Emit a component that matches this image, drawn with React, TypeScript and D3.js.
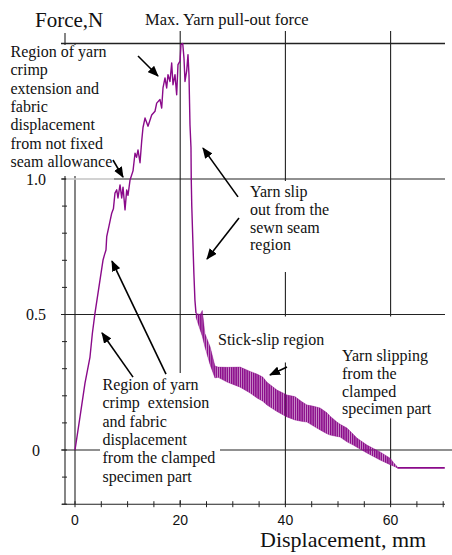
import React from "react";
import * as d3 from "d3";

// ---- Data (displacement in mm, force in N) ----
const riseX = [0, 0.95, 1.9, 2.85, 3.3, 3.8, 4.75, 5.32, 5.6, 5.89, 6.03, 6.5, 6.98, 7.3, 7.6, 7.93, 8.17, 8.56, 8.88, 9.13, 9.51, 9.83, 10.08, 10.46, 11.03, 11.41, 11.7, 11.98, 12.36, 12.68, 12.93, 13.31, 13.88, 14.58, 15.21, 15.53, 16.16, 16.48, 16.73, 17.11, 17.43, 17.68, 18.06, 18.38, 18.63, 19.01, 19.33, 19.58, 19.96, 20.15, 20.48, 20.72, 20.91, 21.24, 21.48, 21.67, 21.86, 22.05, 22.1, 22.2, 22.4, 22.6, 22.8, 23.0];
const riseY = [0, 0.122, 0.247, 0.343, 0.43, 0.505, 0.627, 0.70, 0.72, 0.738, 0.787, 0.83, 0.874, 0.89, 0.948, 0.96, 0.93, 0.978, 0.93, 0.97, 0.886, 0.96, 0.94, 0.996, 1.03, 1.095, 1.08, 1.107, 1.06, 1.14, 1.19, 1.225, 1.195, 1.236, 1.25, 1.28, 1.293, 1.262, 1.336, 1.373, 1.336, 1.385, 1.36, 1.428, 1.348, 1.385, 1.311, 1.422, 1.435, 1.496, 1.5, 1.446, 1.36, 1.4, 1.459, 1.385, 1.2, 1.115, 1.0, 0.9, 0.775, 0.652, 0.553, 0.505];

const slipX = [23.0, 23.8, 24.2, 24.7, 25.7, 26.6, 27.2, 29.0, 31.4, 33.3, 34.6, 35.7, 36.5, 38.4, 40.3, 41.8, 43.0, 44.1, 45.2, 46.6, 47.9, 48.5, 49.8, 50.4, 51.7, 52.9, 53.6, 55.5, 58.0, 59.9, 60.5, 61.3];
const slipTop = [0.505, 0.50, 0.515, 0.43, 0.38, 0.31, 0.306, 0.305, 0.306, 0.29, 0.28, 0.269, 0.25, 0.221, 0.203, 0.197, 0.18, 0.166, 0.162, 0.155, 0.137, 0.125, 0.103, 0.095, 0.081, 0.058, 0.044, 0.018, -0.007, -0.03, -0.045, -0.063];
const slipBottom = [0.49, 0.443, 0.42, 0.38, 0.314, 0.266, 0.268, 0.25, 0.232, 0.21, 0.192, 0.18, 0.166, 0.142, 0.122, 0.111, 0.106, 0.103, 0.09, 0.074, 0.06, 0.055, 0.05, 0.048, 0.03, 0.018, 0.01, -0.011, -0.037, -0.054, -0.059, -0.066];

const tailX = [61.3, 70.3];
const tailY = [-0.066, -0.066];

const xTickLabels = [0, 20, 40, 60];
const yTickLabels = ["0", "0.5", "1.0"];
const yTickValues = [0, 0.5, 1.0];
const gridXValues = [0, 20, 40, 60];
const gridYValues = [0, 0.5, 1.0, 1.5];

// arrows: [x1, y1, x2, y2] in data units, head at the second point
const arrows = [
  [11.98, 1.454, 15.78, 1.38],
  [7.22, 1.07, 9.13, 1.007],
  [30.99, 0.934, 24.33, 1.114],
  [31.18, 0.856, 25.1, 0.705],
  [11.03, 0.269, 5.13, 0.432],
  [17.3, 0.28, 7.03, 0.697],
  [40.3, 0.306, 37.07, 0.277],
];

const noteUpperLeft = ["Region of yarn", "crimp", "extension and", "fabric", "displacement", "from not fixed", "seam allowance"];
const noteSlip = ["Yarn slip", "out from the", "sewn seam", "region"];
const noteStick = ["Stick-slip region"];
const noteClamped = ["Yarn slipping", "from the", "clamped", "specimen part"];
const noteLower = ["Region of yarn", "crimp\u00a0 extension", "and fabric", "displacement", "from the clamped", "specimen part"];

const PURPLE = "#8a0a8a";
const SERIF = "'Liberation Serif', 'Times New Roman', serif";
const SANS = "'Liberation Sans', Arial, sans-serif";

function TextBlock({ lines, x, y, lh, size = 16 }: { lines: string[]; x: number; y: number; lh: number; size?: number }) {
  return (
    <g>
      {lines.map((l, i) => (
        <text key={i} x={x} y={y + i * lh} fontFamily={SERIF} fontSize={size} fill="#111">
          {l}
        </text>
      ))}
    </g>
  );
}

export default function App() {
  const W = 452;
  const H = 555;
  const x = d3.scaleLinear().domain([0, 70]).range([75, 443.2]);
  const y = d3.scaleLinear().domain([-0.2, 1.5]).range([504.2, 43.5]);

  const riseLine = d3
    .line<number>()
    .x((d) => x(d))
    .y((_, i) => y(riseY[i]));
  const tailLine = d3
    .line<number>()
    .x((d) => x(d))
    .y((_, i) => y(tailY[i]));
  const slipArea = d3
    .area<number>()
    .x((d) => x(d))
    .y0((_, i) => y(slipBottom[i]))
    .y1((_, i) => y(slipTop[i]));

  const xMinorTicks = d3.range(0, 70.01, 5);
  const yMinorTicks = d3.range(-0.2, 1.501, 0.1);
  const axisX = 65;
  const axisY = y(-0.2);
  const topY = 31;

  return (
    <svg width={W} height={H} style={{ position: "absolute", left: 0, top: 0, background: "#fff" }}>
      <defs>
        <pattern id="saw" width="2.2" height="6" patternUnits="userSpaceOnUse">
          <rect x="0" y="0" width="1.4" height="6" fill={PURPLE} />
        </pattern>
        <marker id="ah" markerUnits="userSpaceOnUse" markerWidth="11" markerHeight="9" refX="10" refY="4.5" orient="auto">
          <path d="M0,0 L11,4.5 L0,9 z" fill="#000" />
        </marker>
      </defs>
      <rect x={0} y={0} width={W} height={H} fill="#fff" />

      {/* grid */}
      {gridYValues.map((v) => (
        <line key={"gy" + v} x1={61} x2={v === 0 ? 452 : 445} y1={y(v)} y2={y(v)} stroke="#222" strokeWidth={v === 1.5 ? 1.6 : 1.1} />
      ))}
      {gridXValues.map((v) => (
        <line key={"gx" + v} x1={x(v)} x2={x(v)} y1={v === 0 ? y(1.5) : topY} y2={axisY} stroke="#222" strokeWidth={1.1} />
      ))}

      {/* axes */}
      <line x1={axisX} x2={axisX} y1={topY + 2} y2={axisY} stroke="#222" strokeWidth={1.1} />
      <line x1={61.5} x2={445} y1={axisY} y2={axisY} stroke="#222" strokeWidth={1.1} />
      {xMinorTicks.map((v) => (
        <line key={"xt" + v} x1={x(v)} x2={x(v)} y1={axisY - 3} y2={axisY + 3} stroke="#222" strokeWidth={1} />
      ))}
      {yMinorTicks.map((v, i) => (
        <line key={"yt" + i} x1={axisX - 3} x2={axisX + 2} y1={y(v)} y2={y(v)} stroke="#222" strokeWidth={1} />
      ))}

      {/* white boxes behind notes */}
      <rect x={3} y={y(1.5) + 1.5} width={110} height={131} fill="#fff" />
      <rect x={66} y={y(1.0) - 1} width={48} height={2} fill="#fff" fillOpacity={0.6} />
      <rect x={246} y={181} width={88} height={91} fill="#fff" />
      <rect x={216} y={316.5} width={114} height={46} fill="#fff" />
      <rect x={338} y={316.5} width={108} height={102} fill="#fff" />
      <rect x={100} y={373} width={120} height={127} fill="#fff" />

      {/* data */}
      <path d={slipArea(slipX) || ""} fill={PURPLE} fillOpacity={0.42} stroke="none" />
      <path d={slipArea(slipX) || ""} fill="url(#saw)" stroke={PURPLE} strokeWidth={0.6} strokeOpacity={0.6} />
      <path d={riseLine(riseX) || ""} fill="none" stroke={PURPLE} strokeWidth={1.4} strokeLinejoin="round" />
      <path d={tailLine(tailX) || ""} fill="none" stroke={PURPLE} strokeWidth={1.6} />

      {/* arrows */}
      {arrows.map((a, i) => (
        <line key={"ar" + i} x1={x(a[0])} y1={y(a[1])} x2={x(a[2])} y2={y(a[3])} stroke="#000" strokeWidth={1.6} markerEnd="url(#ah)" />
      ))}

      {/* tick labels */}
      {yTickValues.map((v, i) => (
        <text key={"yl" + v} x={36} y={y(v) + 5.5} textAnchor="middle" fontFamily={SERIF} fontSize={16} fill="#111">
          {yTickLabels[i]}
        </text>
      ))}
      {xTickLabels.map((v) => (
        <text key={"xl" + v} x={x(v)} y={525} textAnchor="middle" fontFamily={SANS} fontSize={14} fill="#111">
          {v}
        </text>
      ))}

      {/* titles */}
      <text x={35} y={27} fontFamily={SERIF} fontSize={21} fill="#111">Force,N</text>
      <text x={145} y={25} fontFamily={SERIF} fontSize={16.5} fill="#111">Max. Yarn pull-out force</text>
      <text x={260} y={547} fontFamily={SERIF} fontSize={22} fill="#111">Displacement, mm</text>

      {/* notes */}
      <TextBlock lines={noteUpperLeft} x={10.5} y={57} lh={18.3} />
      <TextBlock lines={noteSlip} x={250} y={197} lh={17.8} />
      <TextBlock lines={noteStick} x={218} y={345} lh={18} />
      <TextBlock lines={noteClamped} x={342} y={361} lh={17.8} />
      <TextBlock lines={noteLower} x={102.5} y={390} lh={18.3} />
    </svg>
  );
}
